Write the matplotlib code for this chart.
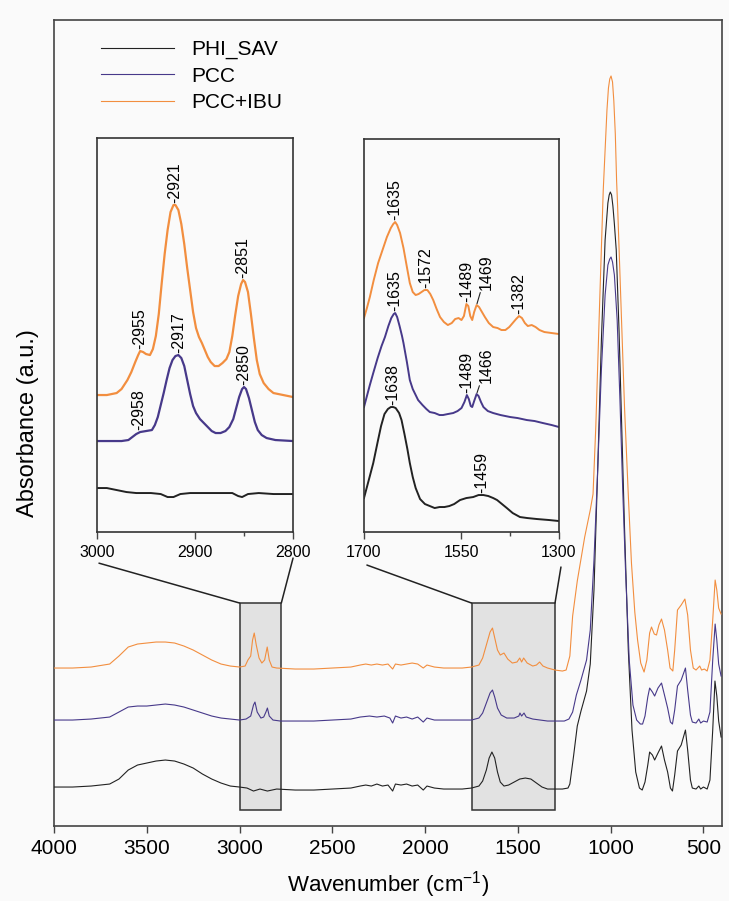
import matplotlib
matplotlib.use("Agg")
import matplotlib.pyplot as plt
from matplotlib.patches import Rectangle, ConnectionPatch

plt.rcParams['font.family'] = ['Liberation Sans', 'DejaVu Sans']
plt.rcParams['mathtext.fontset'] = 'custom'
plt.rcParams['mathtext.rm'] = 'Liberation Sans'
plt.rcParams['mathtext.default'] = 'regular'

BG = '#fafafa'
C_PHI = '#222222'
C_PCC = '#47398a'
C_IBU = '#f28e3f'

# ---- main spectra (wavenumber, absorbance a.u. with stacking offset) ----
phi_wn = [4000, 3900, 3800, 3700, 3650, 3600, 3550, 3500, 3450, 3400, 3350, 3300, 3250, 3200,
          3150, 3100, 3050, 3000, 2960, 2925, 2890, 2850, 2800, 2700, 2600, 2500, 2400, 2350,
          2320, 2290, 2260, 2230, 2200, 2175, 2160, 2130, 2100, 2070, 2040, 2010, 1990, 1950,
          1900, 1850, 1800, 1750, 1710, 1690, 1670, 1655, 1640, 1625, 1610, 1595, 1575, 1550,
          1520, 1490, 1460, 1430, 1400, 1370, 1340, 1300, 1260, 1230, 1220, 1200, 1180, 1160,
          1130, 1110, 1090, 1070, 1050, 1030, 1015, 1008, 1002, 995, 988, 980, 970, 955, 940,
          925, 905, 885, 865, 845, 830, 815, 800, 790, 775, 763, 745, 726, 710, 693, 678, 667,
          655, 640, 620, 597, 585, 570, 560, 540, 525, 515, 500, 480, 465, 450, 438, 428, 418, 405]
phi_abs = [0.39, 0.39, 0.40, 0.42, 0.47, 0.56, 0.61, 0.63, 0.65, 0.66, 0.65, 0.62, 0.58, 0.52,
           0.47, 0.43, 0.40, 0.39, 0.38, 0.35, 0.37, 0.35, 0.37, 0.36, 0.36, 0.37, 0.38, 0.40,
           0.41, 0.40, 0.42, 0.40, 0.41, 0.35, 0.42, 0.41, 0.42, 0.40, 0.41, 0.36, 0.40, 0.38,
           0.37, 0.37, 0.37, 0.38, 0.40, 0.45, 0.56, 0.68, 0.74, 0.68, 0.54, 0.44, 0.40, 0.41,
           0.44, 0.47, 0.48, 0.47, 0.43, 0.39, 0.37, 0.37, 0.37, 0.38, 0.42, 0.70, 1.00, 1.15,
           1.35, 1.62, 2.36, 3.56, 4.86, 5.86, 6.23, 6.31, 6.34, 6.31, 6.20, 6.02, 5.76, 4.96, 3.96,
           2.96, 1.76, 0.96, 0.54, 0.38, 0.36, 0.44, 0.61, 0.74, 0.71, 0.66, 0.73, 0.80, 0.66, 0.54,
           0.38, 0.35, 0.51, 0.75, 0.81, 0.96, 0.76, 0.46, 0.38, 0.37, 0.40, 0.37, 0.39, 0.37, 0.46,
           0.96, 1.45, 1.30, 1.05, 0.89]

pcc_wn = [4000, 3900, 3800, 3700, 3650, 3600, 3550, 3500, 3450, 3400, 3350, 3300, 3250, 3200,
          3150, 3100, 3050, 3000, 2965, 2940, 2925, 2917, 2905, 2885, 2870, 2858, 2850, 2840,
          2820, 2780, 2700, 2600, 2500, 2400, 2350, 2300, 2260, 2220, 2190, 2175, 2160, 2130,
          2100, 2070, 2040, 2010, 1990, 1950, 1900, 1800, 1750, 1710, 1690, 1670, 1650, 1637,
          1625, 1610, 1590, 1560, 1520, 1495, 1489, 1480, 1467, 1455, 1420, 1380, 1340, 1300,
          1250, 1225, 1205, 1185, 1160, 1130, 1110, 1090, 1070, 1050, 1030, 1015, 1005, 998, 990,
          980, 965, 950, 935, 920, 900, 880, 860, 840, 828, 815, 800, 790, 775, 763, 745, 726,
          710, 693, 678, 667, 655, 640, 620, 597, 585, 570, 560, 540, 525, 515, 500, 480, 465,
          450, 437, 428, 418, 405]
pcc_abs = [1.06, 1.06, 1.07, 1.09, 1.14, 1.19, 1.20, 1.20, 1.21, 1.22, 1.21, 1.19, 1.16, 1.13,
           1.10, 1.08, 1.07, 1.06, 1.07, 1.10, 1.21, 1.24, 1.14, 1.08, 1.09, 1.14, 1.18, 1.10,
           1.06, 1.05, 1.05, 1.05, 1.06, 1.07, 1.09, 1.10, 1.09, 1.10, 1.08, 1.03, 1.10, 1.08,
           1.09, 1.07, 1.09, 1.04, 1.08, 1.06, 1.06, 1.06, 1.06, 1.08, 1.13, 1.23, 1.33, 1.36,
           1.29, 1.18, 1.11, 1.08, 1.08, 1.10, 1.13, 1.10, 1.13, 1.09, 1.07, 1.06, 1.05, 1.05,
           1.05, 1.07, 1.14, 1.31, 1.46, 1.66, 1.96, 2.66, 3.56, 4.56, 5.31, 5.61, 5.67, 5.69, 5.64,
           5.51, 5.06, 4.26, 3.36, 2.56, 1.66, 1.21, 1.06, 1.02, 1.02, 1.10, 1.29, 1.38, 1.34,
           1.30, 1.38, 1.43, 1.31, 1.18, 1.04, 1.02, 1.16, 1.40, 1.46, 1.58, 1.36, 1.11, 1.04,
           1.03, 1.07, 1.03, 1.05, 1.04, 1.14, 1.66, 2.02, 1.86, 1.62, 1.50]

ibu_wn = [4000, 3900, 3800, 3700, 3650, 3600, 3550, 3500, 3450, 3400, 3350, 3300, 3250, 3200,
          3150, 3100, 3050, 3000, 2970, 2955, 2940, 2930, 2921, 2910, 2895, 2880, 2865, 2851,
          2840, 2825, 2800, 2700, 2600, 2500, 2400, 2350, 2320, 2290, 2260, 2230, 2200, 2175,
          2160, 2130, 2100, 2070, 2040, 2010, 1990, 1950, 1900, 1800, 1750, 1710, 1690, 1670,
          1650, 1637, 1625, 1610, 1595, 1575, 1555, 1530, 1505, 1490, 1480, 1469, 1450, 1420,
          1400, 1383, 1365, 1340, 1300, 1260, 1240, 1220, 1205, 1180, 1140, 1110, 1095, 1080,
          1060, 1040, 1020, 1012, 1005, 998, 990, 983, 975, 968, 963, 945, 925, 905, 888, 870,
          855, 838, 820, 805, 790, 780, 765, 753, 740, 726, 710, 693, 680, 665, 655, 640, 620,
          600, 585, 570, 555, 540, 520, 510, 495, 480, 465, 450, 437, 428, 418, 405]
ibu_abs = [1.58, 1.58, 1.59, 1.62, 1.70, 1.79, 1.82, 1.83, 1.84, 1.84, 1.83, 1.80, 1.76, 1.71,
           1.66, 1.62, 1.60, 1.59, 1.60, 1.66, 1.70, 1.86, 1.93, 1.81, 1.68, 1.63, 1.66, 1.79,
           1.66, 1.59, 1.58, 1.57, 1.57, 1.58, 1.59, 1.61, 1.62, 1.61, 1.62, 1.61, 1.62, 1.57,
           1.62, 1.61, 1.62, 1.63, 1.62, 1.58, 1.61, 1.59, 1.58, 1.58, 1.59, 1.61, 1.68, 1.81,
           1.94, 1.98, 1.88, 1.76, 1.71, 1.73, 1.67, 1.63, 1.64, 1.68, 1.64, 1.68, 1.63, 1.60,
           1.61, 1.64, 1.60, 1.58, 1.56, 1.55, 1.56, 1.70, 2.10, 2.45, 2.89, 3.16, 3.32, 4.00,
           5.20, 6.36, 7.16, 7.38, 7.47, 7.50, 7.44, 7.25, 6.92, 6.45, 6.22, 5.26, 4.17, 3.31, 2.63,
           2.14, 1.86, 1.63, 1.54, 1.66, 1.93, 1.99, 1.92, 1.91, 2.01, 2.07, 1.96, 1.76, 1.58, 1.55,
           1.76, 2.16, 2.21, 2.27, 2.11, 1.76, 1.58, 1.56, 1.60, 1.56, 1.57, 1.55, 1.66, 2.06, 2.46,
           2.36, 2.18, 2.12]

# ---- inset 1: C-H stretching region 3000-2800 ----
ch_phi_wn = [3000, 2990, 2980, 2970, 2960, 2945, 2935, 2928, 2922, 2915, 2905, 2890, 2875,
             2862, 2856, 2852, 2846, 2835, 2820, 2800]
ch_phi_abs = [0.44, 0.44, 0.42, 0.40, 0.39, 0.39, 0.38, 0.35, 0.35, 0.38, 0.39, 0.39, 0.39,
              0.39, 0.36, 0.35, 0.38, 0.39, 0.38, 0.38]
ch_pcc_wn = [3000, 2975, 2968, 2964, 2960, 2956, 2950, 2944, 2941, 2938, 2935, 2932, 2929,
             2926, 2923, 2920, 2917, 2914, 2911, 2908, 2905, 2902, 2899, 2895, 2891, 2887,
             2883, 2879, 2874, 2869, 2865, 2861, 2858, 2855, 2852, 2850, 2848, 2845, 2842,
             2839, 2836, 2832, 2827, 2818, 2800]
ch_pcc_abs = [0.91, 0.91, 0.92, 0.95, 0.98, 1.00, 1.01, 1.02, 1.07, 1.15, 1.27, 1.39, 1.52,
              1.64, 1.72, 1.76, 1.77, 1.74, 1.66, 1.52, 1.38, 1.26, 1.19, 1.13, 1.09, 1.05,
              1.01, 0.99, 0.99, 1.01, 1.05, 1.13, 1.24, 1.35, 1.43, 1.45, 1.43, 1.34, 1.22,
              1.10, 1.02, 0.97, 0.94, 0.92, 0.91]
ch_ibu_wn = [3000, 2990, 2980, 2975, 2969, 2965, 2961, 2958, 2956, 2953, 2950, 2946, 2943,
             2940, 2937, 2934, 2931, 2928, 2925, 2922, 2920, 2917, 2914, 2911, 2908, 2905,
             2902, 2899, 2896, 2893, 2890, 2887, 2884, 2880, 2876, 2872, 2868, 2865, 2862,
             2859, 2856, 2853, 2851, 2849, 2846, 2843, 2840, 2837, 2834, 2830, 2825, 2820,
             2810, 2800]
ch_ibu_abs = [1.37, 1.37, 1.39, 1.43, 1.52, 1.60, 1.70, 1.77, 1.81, 1.80, 1.78, 1.77, 1.83,
              1.96, 2.18, 2.49, 2.78, 3.02, 3.20, 3.27, 3.27, 3.22, 3.08, 2.88, 2.64, 2.42,
              2.20, 2.04, 1.95, 1.89, 1.82, 1.75, 1.70, 1.66, 1.66, 1.69, 1.73, 1.80, 1.96,
              2.17, 2.36, 2.48, 2.52, 2.50, 2.40, 2.18, 1.94, 1.72, 1.58, 1.49, 1.43, 1.39,
              1.37, 1.35]
ch_peaks = [(2956, 1.81, '-2955'), (2921, 3.27, '-2921'), (2851, 2.52, '-2851'),
            (2957, 1.00, '-2958'), (2917, 1.77, '-2917'), (2850, 1.45, '-2850')]

# ---- inset 2: 1700-1300 region ----
am_phi_wn = [1700, 1694, 1688, 1681, 1672, 1665, 1658, 1651, 1645, 1640, 1635, 1628, 1623,
             1617, 1611, 1606, 1600, 1594, 1585, 1575, 1565, 1555, 1545, 1535, 1525, 1515,
             1503, 1490, 1476, 1465, 1455, 1445, 1435, 1427, 1417, 1407, 1395, 1380, 1365,
             1345, 1320, 1300]
am_phi_abs = [0.34, 0.45, 0.56, 0.69, 0.90, 1.06, 1.18, 1.23, 1.25, 1.25, 1.24, 1.19, 1.12,
              0.98, 0.83, 0.69, 0.55, 0.44, 0.33, 0.28, 0.26, 0.24, 0.25, 0.25, 0.26, 0.28,
              0.32, 0.34, 0.35, 0.37, 0.37, 0.36, 0.34, 0.32, 0.28, 0.24, 0.19, 0.15, 0.14,
              0.13, 0.12, 0.11]
am_pcc_wn = [1700, 1694, 1688, 1681, 1672, 1664, 1657, 1650, 1644, 1639, 1636, 1632, 1627,
             1622, 1619, 1612, 1606, 1600, 1594, 1589, 1580, 1572, 1565, 1555, 1545, 1538,
             1528, 1517, 1508, 1500, 1494, 1489, 1485, 1481, 1478, 1474, 1469, 1465, 1460,
             1455, 1446, 1435, 1420, 1400, 1385, 1366, 1350, 1333, 1315, 1300]
am_pcc_abs = [1.25, 1.36, 1.47, 1.59, 1.74, 1.86, 1.95, 2.06, 2.14, 2.18, 2.19, 2.15, 2.06,
              1.96, 1.89, 1.70, 1.52, 1.43, 1.37, 1.32, 1.27, 1.23, 1.20, 1.19, 1.17, 1.17,
              1.18, 1.19, 1.21, 1.24, 1.30, 1.37, 1.33, 1.26, 1.25, 1.31, 1.38, 1.36, 1.30,
              1.25, 1.21, 1.19, 1.17, 1.15, 1.14, 1.12, 1.11, 1.09, 1.07, 1.05]
am_ibu_wn = [1700, 1694, 1688, 1680, 1671, 1662, 1653, 1645, 1640, 1636, 1632, 1626, 1619,
             1612, 1606, 1600, 1594, 1588, 1582, 1576, 1570, 1564, 1558, 1551, 1544, 1536,
             1528, 1520, 1513, 1506, 1500, 1495, 1490, 1486, 1482, 1478, 1474, 1469, 1464,
             1458, 1452, 1444, 1435, 1426, 1418, 1410, 1402, 1395, 1388, 1382, 1376, 1370,
             1364, 1356, 1348, 1340, 1330, 1315, 1300]
am_ibu_abs = [2.14, 2.24, 2.35, 2.52, 2.69, 2.82, 2.95, 3.04, 3.08, 3.10, 3.07, 2.99, 2.84,
              2.65, 2.49, 2.40, 2.37, 2.38, 2.40, 2.42, 2.42, 2.38, 2.32, 2.23, 2.15, 2.10,
              2.07, 2.09, 2.13, 2.14, 2.12, 2.16, 2.28, 2.26, 2.16, 2.12, 2.20, 2.27, 2.25,
              2.20, 2.15, 2.09, 2.05, 2.04, 2.02, 2.02, 2.05, 2.09, 2.13, 2.16, 2.14, 2.09,
              2.06, 2.07, 2.05, 2.02, 2.00, 1.99, 1.98]
am_peaks = [(1636, 3.10, '-1635'), (1573, 2.42, '-1572'), (1490, 2.28, '-1489'),
            (1382, 2.16, '-1382'), (1636, 2.19, '-1635'), (1489, 1.37, '-1489'),
            (1642, 1.25, '-1638'), (1458, 0.37, '-1459')]
am_leader_peaks = [(1469, 2.27, '1469', 11), (1469, 1.38, '1466', 8)]

zoom_boxes = [(3000, 2775), (1750, 1300)]
box_low, box_high = 0.16, 2.23

fig = plt.figure(figsize=(7.29, 9.01), dpi=100, facecolor=BG)
ax = fig.add_axes([0.0741, 0.0832, 0.9163, 0.8946], facecolor=BG)

ax.plot(phi_wn, phi_abs, color=C_PHI, lw=0.8, label='PHI_SAV', zorder=3)
ax.plot(pcc_wn, pcc_abs, color=C_PCC, lw=0.8, label='PCC', zorder=3)
ax.plot(ibu_wn, ibu_abs, color=C_IBU, lw=0.8, label='PCC+IBU', zorder=3)

for hi, lo in zoom_boxes:
    ax.add_patch(Rectangle((lo, box_low), hi - lo, box_high - box_low, facecolor='#e2e2e2',
                           edgecolor='#333333', lw=1.1, zorder=1))

ax.set_xlim(4000, 400)
ax.set_ylim(0, 8.06)
ax.set_xticks([4000, 3500, 3000, 2500, 2000, 1500, 1000, 500])
ax.set_yticks([])
ax.tick_params(axis='x', direction='out', length=5, width=1, labelsize=15, pad=4, color='#444444')
for s in ax.spines.values():
    s.set_color('#444444')
    s.set_linewidth(1.2)
ax.set_xlabel('Wavenumber (cm$^{-1}$)', fontsize=16, labelpad=8)
ax.set_ylabel('Absorbance (a.u.)', fontsize=17, labelpad=11)

ax.legend(loc='upper left', bbox_to_anchor=(0.07, 0.975), frameon=False, fontsize=15,
          handlelength=3.5, handletextpad=0.85, labelspacing=0.35, borderpad=0,
          borderaxespad=0)


def style_inset(axis, ticks, labels, minor):
    axis.set_facecolor(BG)
    axis.set_yticks([])
    axis.set_xticks(ticks)
    axis.set_xticklabels(labels)
    axis.set_xticks(minor, minor=True)
    axis.tick_params(axis='x', which='major', direction='out', length=5, width=1,
                     labelsize=11.5, pad=4, color='#444444')
    axis.tick_params(axis='x', which='minor', direction='out', length=3, width=1,
                     color='#444444')
    for s in axis.spines.values():
        s.set_color('#333333')
        s.set_linewidth(1.2)


def label_peaks(axis, peaks):
    for wn, val, text in peaks:
        axis.annotate(text, (wn, val), xytext=(0, 1.5), textcoords='offset points',
                      rotation=90, ha='center', va='bottom', fontsize=11.5)


ins1 = fig.add_axes([0.1331, 0.4095, 0.2689, 0.4373])
ins1.plot(ch_phi_wn, ch_phi_abs, color=C_PHI, lw=1.4)
ins1.plot(ch_pcc_wn, ch_pcc_abs, color=C_PCC, lw=1.6)
ins1.plot(ch_ibu_wn, ch_ibu_abs, color=C_IBU, lw=1.6)
ins1.set_xlim(3000, 2800)
ins1.set_ylim(0, 3.94)
style_inset(ins1, [3000, 2900, 2800], ['3000', '2900', '2800'], [2850])
label_peaks(ins1, ch_peaks)

ins2 = fig.add_axes([0.4993, 0.4095, 0.2675, 0.4362])
ins2.plot(am_phi_wn, am_phi_abs, color=C_PHI, lw=1.4)
ins2.plot(am_pcc_wn, am_pcc_abs, color=C_PCC, lw=1.4)
ins2.plot(am_ibu_wn, am_ibu_abs, color=C_IBU, lw=1.4)
ins2.set_xlim(1700, 1300)
ins2.set_ylim(0, 3.93)
style_inset(ins2, [1700, 1500, 1300], ['1700', '1550', '1300'], [1400])
label_peaks(ins2, am_peaks)
for wn, val, text, dy in am_leader_peaks:
    ins2.annotate(text, (wn, val), xytext=(7, dy), textcoords='offset points',
                  rotation=90, ha='center', va='bottom', fontsize=11.5,
                  arrowprops=dict(arrowstyle='-', color='#222222', lw=0.8,
                                  shrinkA=0, shrinkB=1))

# connector lines from the insets down to the shaded regions
links = [(ins1, (0.01, -0.079), (zoom_boxes[0][0], box_high)),
         (ins1, (1.0, -0.066), (zoom_boxes[0][1], box_high)),
         (ins2, (0.015, -0.084), (zoom_boxes[1][0], box_high)),
         (ins2, (1.01, -0.089), (zoom_boxes[1][1], box_high))]
for inset, xya, xyb in links:
    con = ConnectionPatch(xyA=xya, coordsA=inset.transAxes, xyB=xyb, coordsB=ax.transData,
                          color='#222222', lw=1.1)
    fig.add_artist(con)

fig.savefig('out.png', dpi=100, facecolor=BG)
